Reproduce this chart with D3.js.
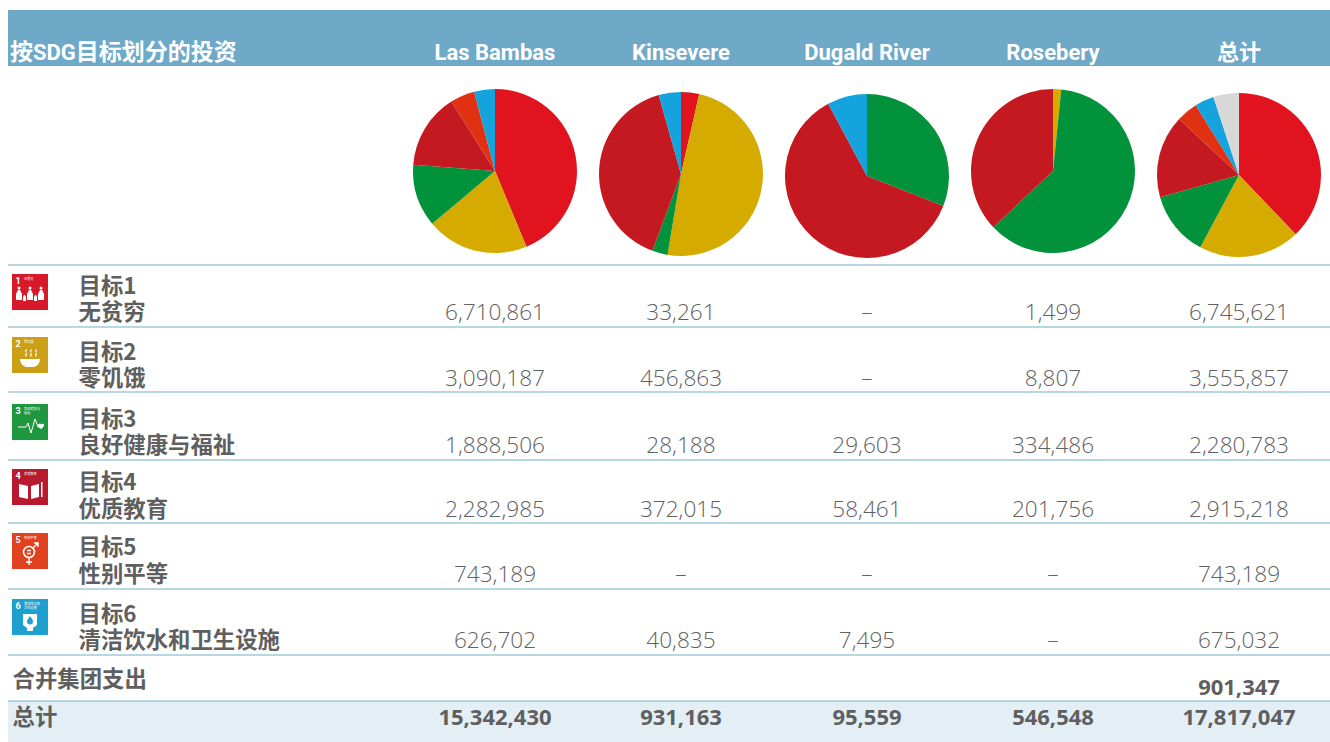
<!DOCTYPE html>
<html>
<head>
<meta charset="utf-8">
<script src="https://cdn.jsdelivr.net/npm/d3@7"></script>
<style>
  html, body { margin: 0; padding: 0; background: #fff; }
  svg { display: block; }
  text { font-family: "Open Sans", "Noto Sans CJK SC", sans-serif; }
  .cjk { font-family: "Noto Sans CJK SC", sans-serif; font-weight: 700; fill: #5f5f5f; font-size: 22.4px; }
  .head { font-family: "Roboto", "Noto Sans CJK SC", sans-serif; font-weight: 700; fill: #fff; font-size: 22px; }
  .num { font-size: 22.6px; font-weight: 300; fill: #616161; text-anchor: middle; }
  .bold { font-size: 22px; font-weight: 700; fill: #5f5f5f; }
</style>
</head>
<body>
<div id="chart"></div>
<script>
var columns = ['Las Bambas', 'Kinsevere', 'Dugald River', 'Rosebery', '总计'];
var goals = ['目标1', '目标2', '目标3', '目标4', '目标5', '目标6'];
var goalNames = ['无贫穷', '零饥饿', '良好健康与福祉', '优质教育', '性别平等', '清洁饮水和卫生设施'];
var iconTitles = [['无贫穷'], ['零饥饿'], ['良好健康与', '福祉'], ['优质教育'], ['性别平等'], ['清洁饮水和', '卫生设施']];
var goalColors = ['#e1131e', '#d5ab00', '#03923c', '#c51921', '#e03213', '#14a3dd'];
var iconColors = ['#d7192a', '#cba018', '#1f973f', '#b9192e', '#e0411f', '#1da0ce'];
var otherColor = '#d8d8d8';

var lasBambas = [6710861, 3090187, 1888506, 2282985, 743189, 626702];
var kinsevere = [33261, 456863, 28188, 372015, null, 40835];
var dugaldRiver = [null, null, 29603, 58461, null, 7495];
var rosebery = [1499, 8807, 334486, 201756, null, null];
var allSites = [6745621, 3555857, 2280783, 2915218, 743189, 675032];
var groupSpend = 901347;
var rowTotals = [15342430, 931163, 95559, 546548, 17817047];

// the Rosebery pie in the picture has no slice for goal 1
var roseberyPie = [null, 8807, 334486, 201756, null, null];

var seriesList = [lasBambas, kinsevere, dugaldRiver, rosebery, allSites];
var pieList = [lasBambas, kinsevere, dugaldRiver, roseberyPie, allSites];

var width = 1330, height = 742;
var svg = d3.select('#chart').append('svg').attr('width', width).attr('height', height);

var x = d3.scalePoint().domain(columns).range([495, 1239]);
var fmt = d3.format(',');

// layout of the rows
var ruleY = [265, 327, 392, 460, 523, 589, 655, 701];
var iconY = [274, 337, 404, 469, 533, 599];
var line1Y = [294, 360, 427, 490, 555, 622];
var line2Y = [320, 386, 453, 517, 582, 648];
var pieY = [171, 174, 176, 171, 175];
var pieR = 82;

// header band
svg.append('rect').attr('x', 8).attr('y', 10).attr('width', width - 8).attr('height', 56).attr('fill', '#6fa9c8');
var title = svg.append('text').attr('class', 'head').attr('x', 10).attr('y', 60);
title.append('tspan').style('font-size', '23px').text('按');
title.append('tspan').text('SDG');
title.append('tspan').style('font-size', '23px').text('目标划分的投资');
svg.selectAll('.colhead').data(columns).enter().append('text')
  .attr('class', 'head colhead')
  .attr('x', function(d) { return x(d); })
  .attr('y', 60)
  .attr('text-anchor', 'middle')
  .text(function(d) { return d; });

// total band
svg.append('rect').attr('x', 8).attr('y', ruleY[7]).attr('width', width - 8).attr('height', height - ruleY[7]).attr('fill', '#e3eef5');

// rules
svg.selectAll('.rule').data(ruleY).enter().append('line')
  .attr('class', 'rule')
  .attr('x1', 8).attr('x2', width)
  .attr('y1', function(d) { return d; })
  .attr('y2', function(d) { return d; })
  .attr('stroke', '#9fcadd')
  .attr('stroke-width', 1.5);

// pies
var pie = d3.pie().sort(null).value(function(d) { return d.value; });
var arc = d3.arc().innerRadius(0).outerRadius(pieR);

columns.forEach(function(col, i) {
  var slices = pieList[i].map(function(v, j) {
    return { value: v || 0, color: goalColors[j] };
  });
  if (i == 4) slices.push({ value: groupSpend, color: otherColor });
  svg.append('g')
    .attr('transform', 'translate(' + x(col) + ',' + pieY[i] + ')')
    .selectAll('path')
    .data(pie(slices))
    .enter().append('path')
    .attr('d', arc)
    .attr('fill', function(d) { return d.data.color; });
});

// goal labels, two lines in one text
goals.forEach(function(g, r) {
  var label = svg.append('text').attr('class', 'cjk');
  label.append('tspan').attr('x', 78.5).attr('y', line1Y[r]).text(g);
  label.append('tspan').attr('x', 78.5).attr('y', line2Y[r]).text(goalNames[r]);
});

// table values
columns.forEach(function(col, i) {
  svg.selectAll('.v' + i).data(seriesList[i]).enter().append('text')
    .attr('class', 'num v' + i)
    .attr('x', x(col))
    .attr('y', function(d, r) { return line2Y[r]; })
    .text(function(d) { return d == null ? '–' : fmt(d); });
});

svg.append('text').attr('class', 'cjk').attr('x', 12.5).attr('y', 687).text('合并集团支出');
svg.append('text').attr('class', 'num bold').attr('x', x('总计')).attr('y', 695).text(fmt(groupSpend));
svg.append('text').attr('class', 'cjk').attr('x', 12.5).attr('y', 725).text('总计');
svg.selectAll('.tot').data(rowTotals).enter().append('text')
  .attr('class', 'num bold tot')
  .attr('x', function(d, i) { return x(columns[i]); })
  .attr('y', 725)
  .text(function(d) { return fmt(d); });

// SDG icons, rough little drawings
var icon = svg.selectAll('.icon').data(goals).enter().append('g')
  .attr('class', 'icon')
  .attr('transform', function(d, i) { return 'translate(12,' + iconY[i] + ')'; });
icon.append('rect').attr('width', 36).attr('height', 36).attr('fill', function(d, i) { return iconColors[i]; });
icon.append('text')
  .attr('x', 3.5).attr('y', 9.5)
  .attr('fill', '#fff')
  .style('font-family', 'Roboto')
  .style('font-size', '9px')
  .style('font-weight', 700)
  .text(function(d, i) { return i + 1; });
icon.each(function(d, i) {
  var t = d3.select(this).append('text')
    .attr('fill', '#fff')
    .style('font-family', '"Noto Sans CJK SC"')
    .style('font-size', '3.2px');
  t.selectAll('tspan').data(iconTitles[i]).enter().append('tspan')
    .attr('x', 12)
    .attr('y', function(s, k) { return 6 + k * 3.6; })
    .text(function(s) { return s; });
});

var glyphs = [
  // people
  'M4 26v-6l2-4h2l2 4v6zM11 27v-4l1-2h1l1 2v4zM15 26v-6l2-4h2l2 4v6zM22 27v-4l1-2h1l1 2v4zM26 26v-6l2-4h2l2 4v6zM5.500 14a1.500 1.500 0 1 0 3 0a1.500 1.500 0 1 0 -3 0zM16.500 14a1.500 1.500 0 1 0 3 0a1.500 1.500 0 1 0 -3 0zM27.500 14a1.500 1.500 0 1 0 3 0a1.500 1.500 0 1 0 -3 0z',
  // bowl
  'M8 22h20c0 5-4 8-7 8h-6c-3 0-7-3-7-8zM13 14l1 2l-1 3l1 1l1-3l-1-2l1-2l-1-1zM18 14l1 2l-1 3l1 1l1-3l-1-2l1-2l-1-1zM23 14l1 2l-1 3l1 1l1-3l-1-2l1-2l-1-1z',
  null,
  // book
  'M7 15l9 2v13l-9-2zM19 17l8-2v13l-8 2zM29 13h1.500v15h-1.500z',
  null,
  // drop tank
  'M11 15h14v11l-4 3v3h-6v-3l-4-3z'
];
icon.append('path')
  .attr('d', function(d, i) { return glyphs[i]; })
  .attr('fill', '#fff')
  .attr('fill-rule', 'evenodd');

// heartbeat for goal 3
d3.select(icon.nodes()[2]).append('path')
  .attr('d', 'M6 23h8l2-4l3 10l4-14l3 8h2')
  .attr('fill', 'none').attr('stroke', '#fff').attr('stroke-width', 1);
d3.select(icon.nodes()[2]).append('path')
  .attr('d', 'M26 21c1-2 3-1 3 0c0-1 2-2 3 0c0 2-3 4-3 4s-3-2-3-4z')
  .attr('fill', '#fff');
// gender mark for goal 5
var g5 = d3.select(icon.nodes()[4]);
g5.append('circle').attr('cx', 17).attr('cy', 19).attr('r', 5.5)
  .attr('fill', 'none').attr('stroke', '#fff').attr('stroke-width', 1.6);
g5.append('path')
  .attr('d', 'M21 15l5-5m-4 0h4v4M17 25v7M14 29h6M15 17.500h4M15 20.500h4')
  .attr('fill', 'none').attr('stroke', '#fff').attr('stroke-width', 1.4);
// water drop for goal 6
d3.select(icon.nodes()[5]).append('path')
  .attr('d', 'M18 17c2 3 3 4 3 5.500a3 3 0 0 1 -6 0c0-1.500 1-2.500 3-5.500z')
  .attr('fill', iconColors[5]);
</script>
</body>
</html>
